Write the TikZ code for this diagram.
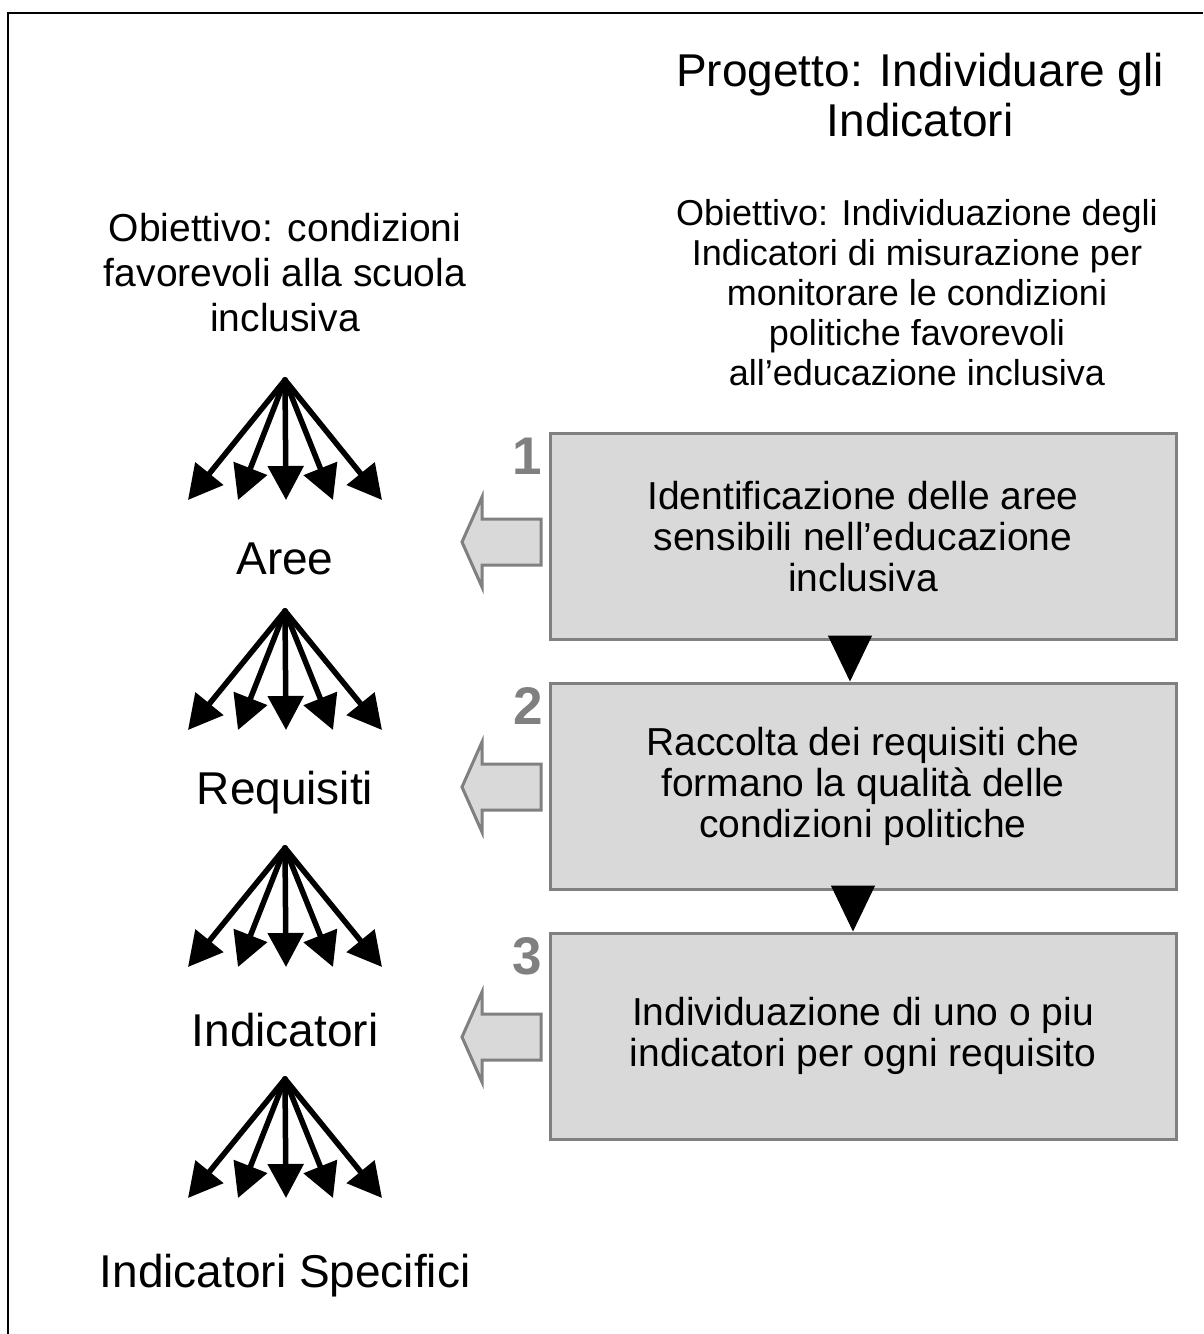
\documentclass[tikz,border=0pt]{standalone}
\usepackage{fontspec}
\setmainfont{Liberation Sans}
\usetikzlibrary{arrows.meta}
\definecolor{boxgray}{HTML}{D9D9D9}
\definecolor{edgegray}{HTML}{808080}
\newcommand\fanarrows[3]{%
  \coordinate (#1) at (285,#2);
  \foreach \dx [count=\i] in {-97,-47,1,48,97} {
    \coordinate (#1-\i) at (285+\dx,#3);
    \draw[fanarrow] (#1) -- (#1-\i);
  }%
}
\newcommand\blockarrow[2]{%
  \coordinate (#1) at (541,#2);
  \draw[blockarrowstyle] (#1) ++(0,-23) -- ++(-59,0) -- ++(0,-22) -- ++(-20,45)
    -- ++(20,45) -- ++(0,-22) -- ++(59,0) -- cycle;
}
\begin{document}
\begin{tikzpicture}[x=1pt,y=-1pt,
  stepbox/.style={draw=edgegray, fill=boxgray, line width=3pt,
    minimum width=626pt, minimum height=206pt, inner sep=0pt,
    align=center, font=\fontsize{39}{41}\selectfont},
  fanarrow/.style={line width=5.5pt, line cap=round, -{Triangle[length=34pt,width=35pt]}},
  blockarrowstyle/.style={draw=edgegray, fill=boxgray, line width=3pt, line join=miter},
  downtri/.style={line width=1pt, -{Triangle[length=46pt,width=44pt]}},
  numlabel/.style={text=edgegray, font=\fontsize{53}{53}\selectfont\bfseries, inner sep=0pt},
  fanlabel/.style={font=\fontsize{46}{50}\selectfont, inner sep=0pt, anchor=base},
  headtext/.style={inner sep=0pt, anchor=north, align=center}
]
\useasboundingbox (0,0) rectangle (1203,1334);
% frame
\draw[line width=2.5pt] (8,1334) -- (8,13) -- (1203,13);

% headers
\node[headtext, font=\fontsize{46}{50}\selectfont] (title) at (920,53)
  {Progetto: Individuare gli\\Indicatori};
\node[headtext, font=\fontsize{39}{45}\selectfont] (lefthead) at (285,213)
  {Obiettivo: condizioni\\favorevoli alla scuola\\inclusiva};
\node[headtext, font=\fontsize{36}{40}\selectfont] (righthead) at (917,199)
  {Obiettivo: Individuazione degli\\Indicatori di misurazione per\\monitorare le condizioni\\politiche favorevoli\\all’educazione inclusiva};

% boxes
\node[stepbox] (b1) at (863,536.5) {Identificazione delle aree\\sensibili nell’educazione\\inclusiva};
\node[stepbox] (b2) at (863,786) {Raccolta dei requisiti che\\formano la qualità delle\\condizioni politiche};
\node[stepbox] (b3) at (863,1036) {Individuazione di uno o piu\\indicatori per ogni requisito};

% numbers
\node[numlabel] (n1) at (527,456) {1};
\node[numlabel] (n2) at (528,706) {2};
\node[numlabel] (n3) at (527,956) {3};

% down triangles
\draw[downtri] ([xshift=-13pt]b1.south) -- ([xshift=-13pt]b2.north);
\draw[downtri] ([xshift=-10pt]b2.south) -- ([xshift=-10pt]b3.north);

% block arrows
\blockarrow{a1}{542}
\blockarrow{a2}{787}
\blockarrow{a3}{1037}

% fans
\fanarrows{f1}{380}{500}
\fanarrows{f2}{611}{730}
\fanarrows{f3}{848}{967}
\fanarrows{f4}{1079}{1198}

% fan labels
\node[fanlabel] (l1) at (285,574) {Aree};
\node[fanlabel] (l2) at (285,804) {Requisiti};
\node[fanlabel] (l3) at (285,1046) {Indicatori};
\node[fanlabel] (l4) at (285,1287) {Indicatori Specifici};
\end{tikzpicture}
\end{document}
